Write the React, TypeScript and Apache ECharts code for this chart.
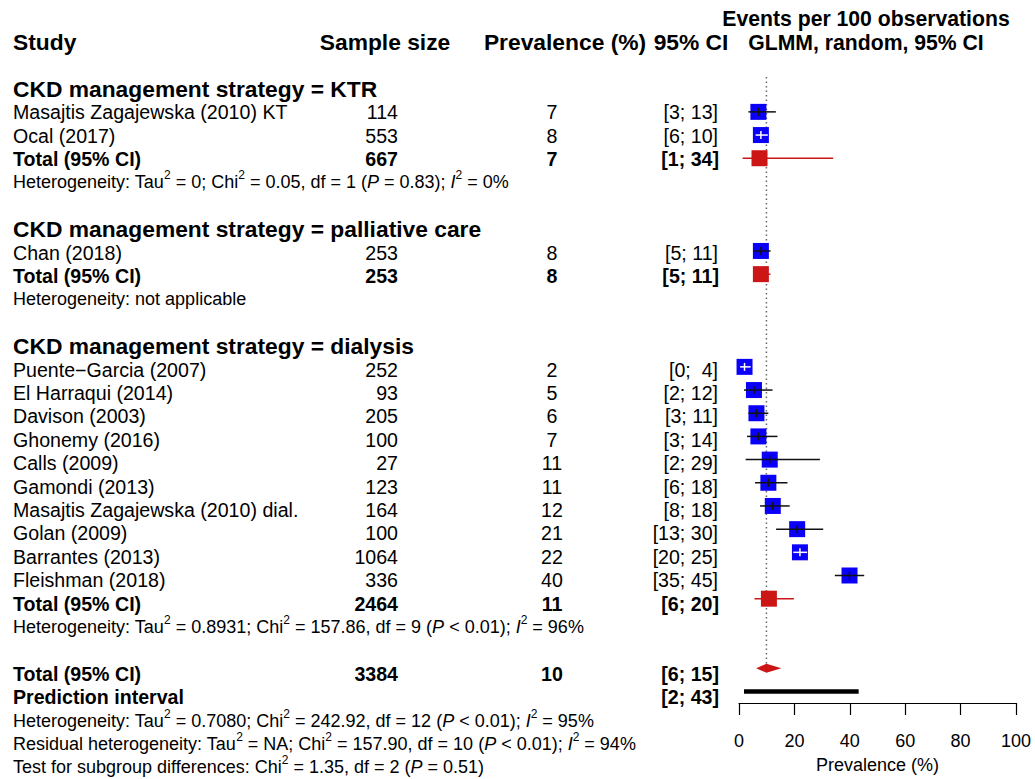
import React, { useEffect, useRef } from "react";
import * as echarts from "echarts";

// ---------- data ----------
const groupLabels = [
  "CKD management strategy = KTR",
  "CKD management strategy = palliative care",
  "CKD management strategy = dialysis",
];
const studyNames = [
  "Masajtis Zagajewska (2010) KT",
  "Ocal (2017)",
  "Chan (2018)",
  "Puente\u2212Garcia (2007)",
  "El Harraqui (2014)",
  "Davison (2003)",
  "Ghonemy (2016)",
  "Calls (2009)",
  "Gamondi (2013)",
  "Masajtis Zagajewska (2010) dial.",
  "Golan (2009)",
  "Barrantes (2013)",
  "Fleishman (2018)",
];
const studyGroup = [0, 0, 1, 2, 2, 2, 2, 2, 2, 2, 2, 2, 2];
const sampleSizes = [114, 553, 253, 252, 93, 205, 100, 27, 123, 164, 100, 1064, 336];
const estimates = [7.0, 7.9, 7.9, 2.0, 5.4, 6.3, 7.0, 11.1, 10.6, 12.2, 21.0, 22.0, 39.9];
const ciLower = [3.4, 6.0, 5.2, 0.4, 1.8, 3.4, 2.9, 2.4, 5.8, 7.6, 13.4, 19.6, 34.6];
const ciUpper = [13.3, 10.4, 11.4, 4.2, 12.1, 10.6, 13.9, 29.2, 17.5, 18.3, 30.4, 24.6, 45.2];

const groupTotalN = [667, 253, 2464];
const groupEst = [7.4, 7.9, 10.8];
const groupLower = [1.3, 5.2, 5.6];
const groupUpper = [34.0, 11.4, 19.8];
const groupHet = [
  "Heterogeneity: Tau{s|2} = 0; Chi{s|2} = 0.05, df = 1 ({i|P} = 0.83); {i|I}{s|2} = 0%",
  "Heterogeneity: not applicable",
  "Heterogeneity: Tau{s|2} = 0.8931; Chi{s|2} = 157.86, df = 9 ({i|P} < 0.01); {i|I}{s|2} = 96%",
];

const overallN = 3384;
const overallEst = 9.9;
const overallLower = 6.2;
const overallUpper = 15.3;
const predLower = 1.8;
const predUpper = 43.2;
const footerLines = [
  "Heterogeneity: Tau{s|2} = 0.7080; Chi{s|2} = 242.92, df = 12 ({i|P} < 0.01); {i|I}{s|2} = 95%",
  "Residual heterogeneity: Tau{s|2} = NA; Chi{s|2} = 157.90, df = 10 ({i|P} < 0.01); {i|I}{s|2} = 94%",
  "Test for subgroup differences: Chi{s|2} = 1.35, df = 2 ({i|P} = 0.51)",
];

const columnHeaders = ["Study", "Sample size", "Prevalence (%)", "95% CI"];
const forestTitle = ["Events per 100 observations", "GLMM, random, 95% CI"];
const totalLabel = "Total (95% CI)";
const predLabel = "Prediction interval";
const xAxisTitle = "Prevalence (%)";
const xMin = 0;
const xMax = 100;
const xStep = 20;

// ---------- layout ----------
const W = 1035;
const H = 779;
const ROW0 = 42;
const ROW_H = 23.4;
const FONT = "'Liberation Sans', Arial, Helvetica, sans-serif";
const FS_ROW = 19.6;
const FS_HET = 18;
const FS_HEAD = 22.8;
const FS_FTITLE = 21.2;
const FS_AXIS = 18;
const COL_STUDY = 13;
const COL_N = 398;
const COL_PREV = 552;
const COL_CI = 718;
const HEAD_X = [13, 385, 565, 691];
const FOREST_HEAD_X = 866;
const FOREST_LEFT = 739;
const FOREST_WIDTH = 277;
const BLUE = "#0a00fa";
const RED = "#cc1616";
const SQ = 16;

type TextItem = {
  x: number;
  row: number;
  text: string;
  align: "left" | "center" | "right";
  bold?: boolean;
  size: number;
};

const fmtCI = (lo: number, hi: number) => {
  const l = String(Math.round(lo));
  let h = String(Math.round(hi));
  if (h.length < 2) h = " " + h;
  return "[" + l + "; " + h + "]";
};

type MarkRow = { est: number; lo: number; hi: number; row: number; kind: number };

function buildLayout() {
  const texts: TextItem[] = [];
  const marks: MarkRow[] = [];
  texts.push({ x: FOREST_HEAD_X, row: -1, text: forestTitle[0], align: "center", bold: true, size: FS_FTITLE });
  texts.push({ x: FOREST_HEAD_X, row: 0, text: forestTitle[1], align: "center", bold: true, size: FS_FTITLE });
  texts.push({ x: HEAD_X[0], row: 0, text: columnHeaders[0], align: "left", bold: true, size: FS_HEAD });
  texts.push({ x: HEAD_X[1], row: 0, text: columnHeaders[1], align: "center", bold: true, size: FS_HEAD });
  texts.push({ x: HEAD_X[2], row: 0, text: columnHeaders[2], align: "center", bold: true, size: FS_HEAD });
  texts.push({ x: HEAD_X[3], row: 0, text: columnHeaders[3], align: "center", bold: true, size: FS_HEAD });

  let r = 2;
  groupLabels.forEach((label, g) => {
    texts.push({ x: COL_STUDY, row: r, text: label, align: "left", bold: true, size: FS_HEAD });
    r++;
    studyNames.forEach((name, i) => {
      if (studyGroup[i] !== g) return;
      texts.push({ x: COL_STUDY, row: r, text: name, align: "left", size: FS_ROW });
      texts.push({ x: COL_N, row: r, text: String(sampleSizes[i]), align: "right", size: FS_ROW });
      texts.push({ x: COL_PREV, row: r, text: String(Math.round(estimates[i])), align: "center", size: FS_ROW });
      texts.push({ x: COL_CI, row: r, text: fmtCI(ciLower[i], ciUpper[i]), align: "right", size: FS_ROW });
      marks.push({ est: estimates[i], lo: ciLower[i], hi: ciUpper[i], row: r, kind: 0 });
      r++;
    });
    texts.push({ x: COL_STUDY, row: r, text: totalLabel, align: "left", bold: true, size: FS_ROW });
    texts.push({ x: COL_N, row: r, text: String(groupTotalN[g]), align: "right", bold: true, size: FS_ROW });
    texts.push({ x: COL_PREV, row: r, text: String(Math.round(groupEst[g])), align: "center", bold: true, size: FS_ROW });
    texts.push({ x: COL_CI + 1, row: r, text: fmtCI(groupLower[g], groupUpper[g]), align: "right", bold: true, size: FS_ROW });
    marks.push({ est: groupEst[g], lo: groupLower[g], hi: groupUpper[g], row: r, kind: 1 });
    r++;
    texts.push({ x: COL_STUDY, row: r, text: groupHet[g], align: "left", size: FS_HET });
    r += 2;
  });
  const overallRow = r;
  texts.push({ x: COL_STUDY, row: r, text: totalLabel, align: "left", bold: true, size: FS_ROW });
  texts.push({ x: COL_N, row: r, text: String(overallN), align: "right", bold: true, size: FS_ROW });
  texts.push({ x: COL_PREV, row: r, text: String(Math.round(overallEst)), align: "center", bold: true, size: FS_ROW });
  texts.push({ x: COL_CI + 1, row: r, text: fmtCI(overallLower, overallUpper), align: "right", bold: true, size: FS_ROW });
  marks.push({ est: overallEst, lo: overallLower, hi: overallUpper, row: r, kind: 2 });
  r++;
  texts.push({ x: COL_STUDY, row: r, text: predLabel, align: "left", bold: true, size: FS_ROW });
  texts.push({ x: COL_CI + 1, row: r, text: fmtCI(predLower, predUpper), align: "right", bold: true, size: FS_ROW });
  marks.push({ est: (predLower + predUpper) / 2, lo: predLower, hi: predUpper, row: r, kind: 3 });
  r++;
  footerLines.forEach((line) => {
    texts.push({ x: COL_STUDY, row: r, text: line, align: "left", size: FS_HET });
    r++;
  });
  return { texts, marks, overallRow };
}

export default function App() {
  const ref = useRef<HTMLDivElement>(null);
  useEffect(() => {
    if (!ref.current) return;
    const chart = echarts.init(ref.current, undefined, { renderer: "svg" });
    const { texts, marks, overallRow } = buildLayout();
    const yMin0 = -ROW0 / ROW_H;
    const yMax0 = (H - ROW0) / ROW_H;
    const fRowMin = 1.5;
    const fRowMax = 28.5;

    const option: any = {
      animation: false,
      backgroundColor: "#ffffff",
      grid: [
        { left: 0, top: 0, width: W, height: H, containLabel: false },
        {
          left: FOREST_LEFT,
          width: FOREST_WIDTH,
          top: ROW0 + ROW_H * fRowMin,
          height: ROW_H * (fRowMax - fRowMin),
          containLabel: false,
        },
      ],
      xAxis: [
        { gridIndex: 0, type: "value", min: 0, max: W, show: false },
        {
          gridIndex: 1,
          type: "value",
          min: xMin,
          max: xMax,
          interval: xStep,
          axisLine: { show: true, onZero: false, lineStyle: { color: "#000", width: 1.2 } },
          axisTick: { show: true, length: 12, lineStyle: { color: "#000", width: 1.2 } },
          axisLabel: { fontSize: FS_AXIS, color: "#000", margin: 29, fontFamily: FONT },
          splitLine: { show: false },
          name: xAxisTitle,
          nameLocation: "middle",
          nameGap: 53,
          nameTextStyle: { fontSize: FS_AXIS, color: "#000", fontFamily: FONT },
        },
      ],
      yAxis: [
        { gridIndex: 0, type: "value", inverse: true, min: yMin0, max: yMax0, show: false },
        { gridIndex: 1, type: "value", inverse: true, min: fRowMin, max: fRowMax, show: false },
      ],
      series: [
        {
          type: "custom",
          xAxisIndex: 0,
          yAxisIndex: 0,
          clip: false,
          silent: true,
          data: texts.map((t, i) => [t.x, t.row, i]),
          renderItem: (params: any, api: any) => {
            const t = texts[api.value(2)];
            const p = api.coord([api.value(0), api.value(1)]);
            const supSize = Math.round(t.size * 0.66);
            return {
              type: "text",
              x: p[0],
              y: p[1],
              style: {
                text: t.text,
                align: t.align,
                verticalAlign: "middle",
                fontSize: t.size,
                fontWeight: t.bold ? "bold" : "normal",
                fontFamily: FONT,
                fill: "#000",
                rich: {
                  s: {
                    fontSize: supSize,
                    fontFamily: FONT,
                    fill: "#000",
                    padding: [0, 0, Math.round(t.size * 0.75), 0],
                  },
                  i: {
                    fontSize: t.size,
                    fontStyle: "italic",
                    fontFamily: FONT,
                    fill: "#000",
                  },
                },
              },
            };
          },
        },
        {
          type: "custom",
          xAxisIndex: 1,
          yAxisIndex: 1,
          clip: false,
          silent: true,
          z: 1,
          data: [[overallEst, fRowMin, overallRow - 0.2]],
          renderItem: (params: any, api: any) => {
            const a = api.coord([api.value(0), api.value(1)]);
            const b = api.coord([api.value(0), api.value(2)]);
            return {
              type: "line",
              shape: { x1: a[0], y1: a[1], x2: b[0], y2: b[1] },
              style: { stroke: "#666", lineWidth: 1.5, lineDash: [1.5, 3] },
            };
          },
        },
        {
          type: "custom",
          xAxisIndex: 1,
          yAxisIndex: 1,
          clip: false,
          silent: true,
          z: 2,
          data: marks.map((m) => [m.est, m.row, m.lo, m.hi, m.kind]),
          renderItem: (params: any, api: any) => {
            const est = api.value(0);
            const row = api.value(1);
            const lo = api.value(2);
            const hi = api.value(3);
            const kind = api.value(4);
            const c = api.coord([est, row]);
            const l = api.coord([lo, row]);
            const h = api.coord([hi, row]);
            const children: any[] = [];
            if (kind === 0) {
              const inside = l[0] >= c[0] - SQ / 2 && h[0] <= c[0] + SQ / 2;
              const col = inside ? "#ffffff" : "#111";
              children.push({
                type: "rect",
                shape: { x: c[0] - SQ / 2, y: c[1] - SQ / 2, width: SQ, height: SQ },
                style: { fill: BLUE },
              });
              children.push({
                type: "line",
                shape: { x1: l[0], y1: c[1], x2: h[0], y2: c[1] },
                style: { stroke: col, lineWidth: 1.5 },
              });
              children.push({
                type: "line",
                shape: { x1: c[0], y1: c[1] - 4, x2: c[0], y2: c[1] + 4 },
                style: { stroke: col, lineWidth: 1.5 },
              });
            } else if (kind === 1) {
              children.push({
                type: "line",
                shape: { x1: l[0], y1: c[1], x2: h[0], y2: c[1] },
                style: { stroke: RED, lineWidth: 1.4 },
              });
              children.push({
                type: "rect",
                shape: { x: c[0] - SQ / 2, y: c[1] - SQ / 2, width: SQ, height: SQ },
                style: { fill: RED },
              });
            } else if (kind === 2) {
              children.push({
                type: "polygon",
                shape: {
                  points: [
                    [l[0], c[1]],
                    [c[0], c[1] - 4.5],
                    [h[0], c[1]],
                    [c[0], c[1] + 4.5],
                  ],
                },
                style: { fill: RED },
              });
            } else {
              children.push({
                type: "line",
                shape: { x1: l[0], y1: c[1], x2: h[0], y2: c[1] },
                style: { stroke: "#000", lineWidth: 4.5, lineCap: "butt" },
              });
            }
            return { type: "group", children };
          },
        },
      ],
    };
    chart.setOption(option);
    return () => chart.dispose();
  }, []);
  return (
    <div
      ref={ref}
      style={{ position: "absolute", left: 0, top: 0, width: W, height: H, background: "#fff" }}
    />
  );
}
